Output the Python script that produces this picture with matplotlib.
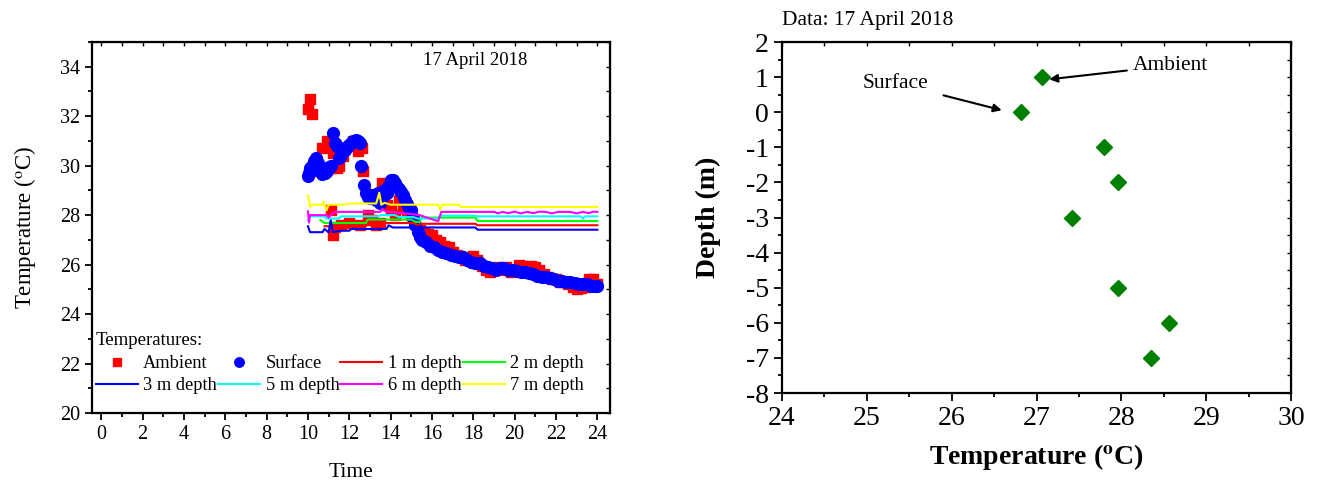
import matplotlib
matplotlib.use("Agg")
import matplotlib.pyplot as plt
from matplotlib.ticker import MultipleLocator

plt.rcParams['font.family'] = ['Liberation Serif', 'DejaVu Serif']
plt.rcParams['mathtext.fontset'] = 'stix'
plt.rcParams['axes.unicode_minus'] = False

# ambient (red squares)
amb_t = [10.0, 10.1, 10.2, 10.5, 10.6, 10.7, 10.9, 11.0, 11.1, 11.2, 11.2, 11.3, 11.4, 11.5,
         11.6, 11.7, 12.0, 12.0, 12.2, 12.4, 12.5, 12.6, 12.65, 12.9, 13.1, 13.3, 13.5, 13.6,
         13.7, 13.8, 14.0, 14.2, 14.4, 14.6, 14.8, 15.0, 15.2, 15.4, 15.6, 15.8, 16.0, 16.2,
         16.4, 16.6, 16.8, 17.0, 17.2, 17.4, 17.6, 17.8, 18.0, 18.2, 18.4, 18.6, 18.8, 19.0,
         19.2, 19.4, 19.6, 19.8, 20.0, 20.2, 20.4, 20.6, 20.8, 21.0, 21.2, 21.4, 21.6, 21.8,
         22.0, 22.2, 22.4, 22.6, 22.8, 23.0, 23.2, 23.4, 23.6, 23.8, 24.0]
amb_v = [32.3, 32.7, 32.1, 29.9, 29.8, 30.7, 31.0, 30.9, 28.2, 30.5, 27.2, 27.5, 29.9, 30.0,
         27.6, 30.4, 30.8, 27.7, 31.0, 30.6, 27.6, 30.7, 29.8, 28.0, 27.8, 27.6, 27.7, 29.3,
         28.8, 28.4, 28.2, 28.0, 28.6, 28.3, 28.2, 28.0, 27.7, 27.4, 27.3, 27.25, 27.2, 27.0,
         26.9, 26.75, 26.7, 26.5, 26.4, 26.3, 26.2, 26.25, 26.35, 26.2, 25.95, 25.8, 25.7, 25.8,
         25.9, 25.8, 25.9, 25.7, 25.8, 26.0, 25.95, 25.85, 25.95, 25.9, 25.8, 25.6, 25.5, 25.4,
         25.4, 25.3, 25.3, 25.2, 25.1, 25.0, 25.05, 25.1, 25.4, 25.4, 25.2]

# surface (blue circles)
sur_t = [10.0, 10.05, 10.1, 10.2, 10.3, 10.4, 10.5, 10.6, 10.7, 10.8, 10.9, 11.0, 11.1, 11.2,
         11.3, 11.4, 11.5, 11.6, 11.7, 11.8, 11.9, 12.0, 12.1, 12.2, 12.3, 12.4, 12.5, 12.55,
         12.7, 12.8, 12.9, 13.0, 13.1, 13.2, 13.3, 13.4, 13.5, 13.6, 13.7, 13.8, 13.9, 14.0,
         14.1, 14.2, 14.3, 14.4, 14.5, 14.6, 14.7, 14.8, 14.9, 15.0, 15.1, 15.2, 15.3, 15.4,
         15.5, 15.7, 15.9, 16.1, 16.3, 16.5, 16.7, 16.9, 17.1, 17.3, 17.5, 17.7, 17.9, 18.1,
         18.3, 18.5, 18.7, 18.9, 19.1, 19.3, 19.5, 19.7, 19.9, 20.1, 20.3, 20.5, 20.7, 20.9,
         21.1, 21.3, 21.5, 21.7, 21.9, 22.1, 22.3, 22.5, 22.7, 22.9, 23.1, 23.3, 23.5, 23.7,
         23.9, 24.0]
sur_v = [29.6, 29.7, 29.9, 30.0, 30.2, 30.3, 30.1, 29.8, 29.65, 29.7, 29.8, 29.95, 30.0, 31.3,
         30.9, 30.8, 30.3, 30.45, 30.6, 30.65, 30.75, 30.85, 30.9, 31.0, 31.05, 31.0, 30.9, 30.0,
         29.2, 28.9, 28.75, 28.7, 28.8, 28.7, 28.6, 28.9, 28.5, 28.7, 29.0, 28.9, 29.2, 29.4,
         29.4, 29.3, 29.15, 29.05, 28.95, 28.8, 28.6, 28.45, 28.3, 28.2, 27.9, 27.6, 27.3, 27.1,
         27.0, 26.9, 26.75, 26.7, 26.6, 26.5, 26.45, 26.4, 26.35, 26.3, 26.3, 26.2, 26.1, 26.05,
         26.05, 25.95, 25.9, 25.85, 25.8, 25.85, 25.85, 25.8, 25.8, 25.75, 25.7, 25.7, 25.65, 25.6,
         25.55, 25.5, 25.5, 25.45, 25.4, 25.35, 25.35, 25.3, 25.3, 25.25, 25.2, 25.2, 25.2, 25.15,
         25.15, 25.15]

# depth sensors
d1_t = [10.8, 12.8, 12.9, 15.1, 15.3, 15.5, 18.1, 18.2, 24.0]
d1_v = [27.55, 27.55, 27.68, 27.68, 27.6, 27.65, 27.65, 27.59, 27.59]
d2_t = [10.6, 10.8, 12.8, 12.9, 15.0, 15.2, 15.4, 15.5, 18.1, 18.2, 24.0]
d2_v = [27.8, 27.68, 27.68, 27.82, 27.82, 27.72, 27.72, 27.9, 27.9, 27.76, 27.76]
d3_t = [10.0, 10.1, 10.7, 10.8, 11.0, 11.1, 11.2, 11.6, 12.0, 12.1, 12.8, 13.8, 13.9, 14.1,
        15.0, 18.1, 18.2, 24.0]
d3_v = [27.55, 27.31, 27.31, 27.44, 27.3, 27.8, 27.31, 27.37, 27.37, 27.44, 27.44, 27.44, 27.59,
        27.5, 27.5, 27.5, 27.41, 27.41]
d5_t = [10.0, 10.1, 10.8, 10.9, 11.5, 11.6, 13.4, 13.5, 14.2, 14.4, 15.1, 15.3, 16.3, 16.4,
        18.1, 18.2, 23.2, 23.3, 23.4, 24.0]
d5_v = [27.8, 27.95, 27.95, 27.86, 27.86, 27.95, 27.95, 28.0, 28.0, 27.92, 27.92, 27.86, 27.86,
        27.98, 27.98, 27.95, 27.95, 27.86, 27.95, 27.95]
d6_t = [10.0, 10.05, 10.1, 10.2, 10.9, 11.0, 11.1, 11.3, 13.5, 13.6, 13.8, 14.0, 15.0, 15.4,
        16.3, 16.45, 19.0, 19.2, 19.4, 19.7, 20.0, 20.3, 20.6, 20.9, 21.2, 21.5, 21.8, 22.1,
        22.4, 22.7, 23.0, 23.3, 23.6, 23.8, 24.0]
d6_v = [28.15, 27.7, 28.0, 28.0, 28.0, 27.9, 28.0, 28.13, 28.13, 28.25, 28.13, 28.13, 28.04,
        28.0, 27.75, 28.13, 28.13, 28.07, 28.13, 28.08, 28.14, 28.07, 28.13, 28.08, 28.14, 28.13,
        28.07, 28.13, 28.13, 28.13, 28.07, 28.13, 28.08, 28.14, 28.13]
d7_t = [10.0, 10.1, 10.2, 10.7, 10.75, 10.9, 11.0, 11.7, 12.0, 13.0, 13.3, 13.45, 13.55, 13.7,
        14.0, 15.5, 16.3, 16.4, 16.5, 17.3, 17.4, 24.0]
d7_v = [28.8, 28.33, 28.42, 28.42, 28.55, 28.2, 28.42, 28.42, 28.47, 28.47, 28.47, 28.9, 28.42,
        28.5, 28.42, 28.42, 28.42, 28.22, 28.42, 28.42, 28.33, 28.33]

# profile
prof_depth = [1, 0, -1, -2, -3, -5, -6, -7]
prof_temp = [27.06, 26.82, 27.79, 27.96, 27.42, 27.96, 28.56, 28.35]

fig = plt.figure(figsize=(13.21, 4.82), dpi=100)

# ---------------- left panel ----------------
ax = fig.add_axes([0.0696, 0.1432, 0.392, 0.7697])
h_amb, = ax.plot(amb_t, amb_v, ls='none', marker='s', ms=7, color='#FF0000', mec='#FF0000')
h_sur, = ax.plot(sur_t, sur_v, ls='none', marker='o', ms=8.5, color='#0000FF', mec='#0000FF')
h1, = ax.plot(d1_t, d1_v, color='#FF0000', lw=1.5)
h2, = ax.plot(d2_t, d2_v, color='#00FF00', lw=1.5)
h3, = ax.plot(d3_t, d3_v, color='#0000FF', lw=1.5)
h5, = ax.plot(d5_t, d5_v, color='#00FFFF', lw=1.5)
h6, = ax.plot(d6_t, d6_v, color='#FF00FF', lw=1.5)
h7, = ax.plot(d7_t, d7_v, color='#FFFF00', lw=1.5)

ax.set_xlim(-0.45, 24.6)
ax.set_ylim(20, 35)
ax.xaxis.set_major_locator(MultipleLocator(2))
ax.xaxis.set_minor_locator(MultipleLocator(1))
ax.yaxis.set_major_locator(MultipleLocator(2))
ax.yaxis.set_minor_locator(MultipleLocator(1))
ax.tick_params(which='both', direction='out', labelsize=14.5, width=1.3)
ax.tick_params(which='major', length=5)
ax.tick_params(which='minor', length=3)
for s in ax.spines.values():
    s.set_linewidth(1.6)
top = ax.secondary_xaxis('top')
top.xaxis.set_major_locator(MultipleLocator(1))
top.tick_params(direction='in', length=3, width=1, labeltop=False)
rgt = ax.secondary_yaxis('right')
rgt.yaxis.set_major_locator(MultipleLocator(1))
rgt.tick_params(direction='in', length=3, width=1, labelright=False)

ax.set_xlabel('Time', fontsize=15.5, labelpad=14)
ax.set_ylabel('Temperature ($^{\\rm o}$C)', fontsize=16.5, labelpad=16)
ax.text(0.74, 0.95, '17 April 2018', transform=ax.transAxes, ha='center', va='center',
        fontsize=13.5)

handles = [h_amb, h3, h_sur, h5, h1, h6, h2, h7]
labels = ['Ambient', '3 m depth', 'Surface', '5 m depth', '1 m depth', '6 m depth',
          '2 m depth', '7 m depth']
leg = ax.legend(handles, labels, ncol=4, loc='lower left', bbox_to_anchor=(0.0, 0.04),
                frameon=False, title='Temperatures:', alignment='left', numpoints=1,
                handlelength=2.3, columnspacing=0.05, handletextpad=0.3, fontsize=13.2,
                title_fontsize=13.5, borderaxespad=0, borderpad=0.2, labelspacing=0.3,
                markerscale=0.8)

# ---------------- right panel ----------------
bx = fig.add_axes([0.592, 0.1846, 0.3853, 0.728])
bx.plot(prof_temp, prof_depth, ls='none', marker='D', ms=8.5, color='#008000')
bx.set_xlim(24, 30)
bx.set_ylim(-8, 2)
bx.xaxis.set_major_locator(MultipleLocator(1))
bx.xaxis.set_minor_locator(MultipleLocator(0.5))
bx.yaxis.set_major_locator(MultipleLocator(1))
bx.yaxis.set_minor_locator(MultipleLocator(0.5))
bx.tick_params(which='both', direction='out', labelsize=20, width=1.3)
bx.tick_params(which='major', length=6)
bx.tick_params(which='minor', length=3)
for s in bx.spines.values():
    s.set_linewidth(1.6)
btop = bx.secondary_xaxis('top')
btop.xaxis.set_major_locator(MultipleLocator(0.5))
btop.tick_params(direction='in', length=3, width=1, labeltop=False)
brgt = bx.secondary_yaxis('right')
brgt.yaxis.set_major_locator(MultipleLocator(0.5))
brgt.tick_params(direction='in', length=3, width=1, labelright=False)

bx.set_xlabel('Temperature ($^{\\bf o}$C)', fontsize=20, fontweight='bold', labelpad=8)
bx.set_ylabel('Depth (m)', fontsize=20, fontweight='bold', labelpad=18)
bx.text(0.0, 1.063, 'Data: 17 April 2018', transform=bx.transAxes, ha='left', va='center',
        fontsize=15.5)

bx.annotate('Ambient', xy=(27.15, 0.94), xytext=(28.13, 1.33), fontsize=15.5,
            ha='left', va='center',
            arrowprops=dict(arrowstyle='-|>', color='black', lw=1.5, shrinkA=2, shrinkB=0,
                            mutation_scale=12))
bx.annotate('Surface', xy=(26.59, 0.06), xytext=(25.34, 0.83), fontsize=15.5,
            ha='center', va='center',
            arrowprops=dict(arrowstyle='-|>', color='black', lw=1.5, shrinkA=9, shrinkB=0,
                            mutation_scale=12))

fig.savefig('out.png', dpi=100)
